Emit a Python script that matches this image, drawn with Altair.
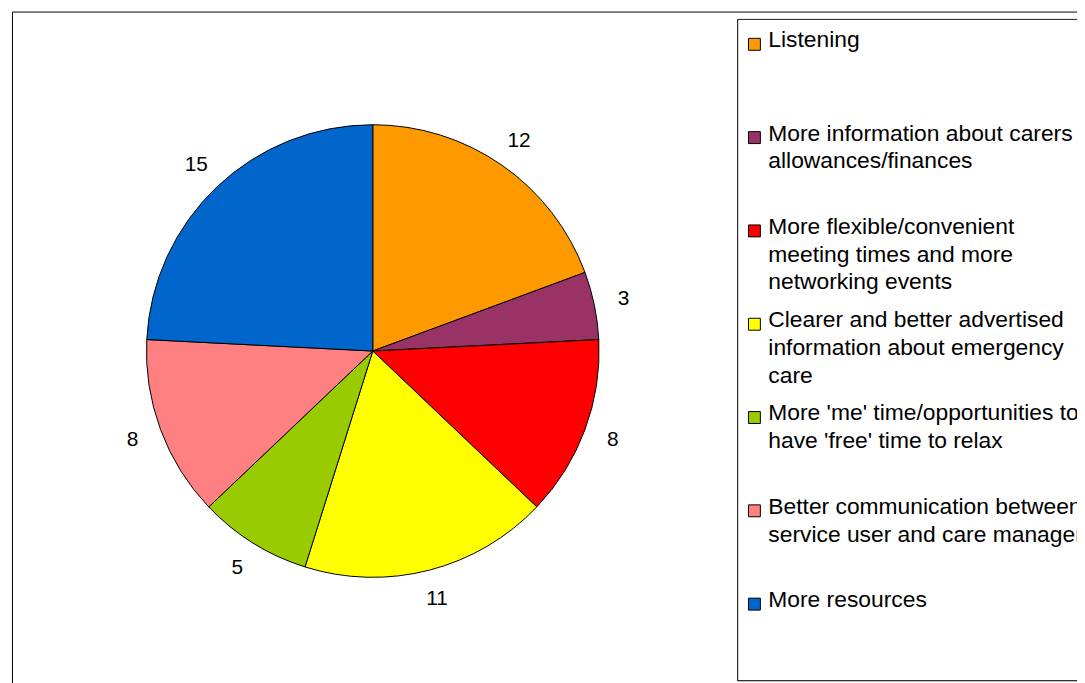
import altair as alt
import pandas as pd

categories = [
    "Listening",
    "More information about carers allowances/finances",
    "More flexible/convenient meeting times and more networking events",
    "Clearer and better advertised information about emergency care",
    "More 'me' time/opportunities to have 'free' time to relax",
    "Better communication between service user and care manager",
    "More resources",
]
legend_lines = [
    "Listening",
    "More information about carers|allowances/finances",
    "More flexible/convenient|meeting times and more|networking events",
    "Clearer and better advertised|information about emergency|care",
    "More 'me' time/opportunities to|have 'free' time to relax",
    "Better communication between|service user and care manager",
    "More resources",
]
values = [12, 3, 8, 11, 5, 8, 15]
colors = ["#FF9900", "#993366", "#FF0000", "#FFFF00", "#99CC00", "#FF8080", "#0066CC"]

df = pd.DataFrame({
    "cat": categories,
    "legend": legend_lines,
    "value": values,
    "idx": list(range(len(values))),
})

FONT = "Liberation Sans"
color_scale = alt.Scale(domain=categories, range=colors)

cx, cy, R = 363.5, 342, 228

base = alt.Chart(df).encode(
    theta=alt.Theta("value:Q", stack=True),
    order=alt.Order("idx:Q"),
)

pie = base.mark_arc(stroke="black", strokeWidth=1, outerRadius=R).encode(
    x=alt.value(cx), y=alt.value(cy),
    color=alt.Color("cat:N", scale=color_scale, legend=None),
)

pie_labels = base.mark_text(radius=258, fontSize=21, font=FONT, color="black").encode(
    x=alt.value(cx), y=alt.value(cy),
    text=alt.Text("value:Q"),
)

legend_box = alt.Chart(df).mark_rect(fill=None, stroke="#333", strokeWidth=1).encode(
    x=alt.value(731), x2=alt.value(1200), y=alt.value(8), y2=alt.value(674),
)

ypos = alt.Y("cat:N", scale=alt.Scale(domain=categories, range=[33, 597], padding=0), axis=None)

leg_sq = alt.Chart(df).mark_square(size=144, stroke="black", strokeWidth=1, opacity=1, shape="square").encode(
    x=alt.value(748),
    y=ypos,
    fill=alt.Color("cat:N", scale=color_scale, legend=None),
)

leg_txt = alt.Chart(df).transform_calculate(
    lines="split(datum.legend, '|')"
).mark_text(align="left", baseline="top", fontSize=23, font=FONT, lineHeight=28, dy=-15, color="black").encode(
    x=alt.value(762),
    y=ypos,
    text="lines:N",
)

chart = alt.layer(legend_box, pie, pie_labels, leg_sq, leg_txt).properties(
    width=1073, height=690,
    autosize=alt.AutoSizeParams(type="none"),
    padding={"left": 4, "top": 1, "right": 0, "bottom": 0},
).configure(background="white").configure_view(stroke="black", strokeWidth=1)

chart.save("out.html", embed_options={"renderer": "svg", "actions": False})
